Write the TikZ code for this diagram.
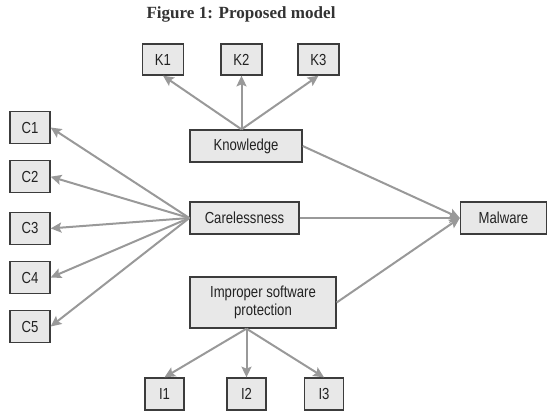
\documentclass[tikz,border=0pt]{standalone}
\usepackage{fontspec}
\newfontfamily\boxfont{Liberation Sans}[FakeStretch=0.82]
\newfontfamily\capfont{Liberation Serif}
\usetikzlibrary{arrows.meta}
\definecolor{boxline}{HTML}{3C3C3C}
\definecolor{boxfill}{HTML}{E8E8E8}
\definecolor{linkgray}{HTML}{999999}
\definecolor{txt}{HTML}{222222}
\begin{document}
\begin{tikzpicture}[x=0.75pt,y=-0.75pt,
  box/.style={draw=boxline, fill=boxfill, line width=1pt, inner sep=0pt,
    minimum height=24pt, align=center, text=txt,
    font=\boxfont\fontsize{12}{13.2}\selectfont},
  smallbox/.style={box, minimum width=30pt},
  link/.style={draw=linkgray, line width=1.5pt,
    -{Stealth[length=8pt,width=7.5pt,inset=1.5pt]}}]
\useasboundingbox (0,0) rectangle (547,411);

\node[anchor=base, font=\capfont\bfseries\fontsize{12.8}{15}\selectfont, text=black!80]
  (title) at (241,18.3) {Figure 1: Proposed model};

% K boxes
\node[smallbox, minimum width=30.75pt, minimum height=23.25pt] (k1) at (163,59.5) {K1};
\node[smallbox, minimum width=30.75pt, minimum height=23.25pt] (k2) at (241.5,59.5) {K2};
\node[smallbox, minimum width=30.75pt, minimum height=23.25pt] (k3) at (318.5,59.5) {K3};

% main factors
\node[box, minimum width=84pt] (kn) at (246,146) {Knowledge};
\node[box, minimum width=81.75pt] (car) at (244.5,218) {Carelessness};
\node[box, minimum width=109.5pt, minimum height=38.25pt] (imp) at (263,302.5) {Improper software\\protection};
\node[box, minimum width=64.5pt] (mal) at (503.5,218) {Malware};

% C boxes
\node[smallbox] (c1) at (30,127.5) {C1};
\node[smallbox] (c2) at (30,176.7) {C2};
\node[smallbox] (c3) at (30,228.4) {C3};
\node[smallbox] (c4) at (30,277.5) {C4};
\node[smallbox] (c5) at (30,326.5) {C5};

% I boxes
\node[smallbox, minimum width=29.25pt] (i1) at (164.5,394) {I1};
\node[smallbox, minimum width=29.25pt] (i2) at (246.5,394) {I2};
\node[smallbox, minimum width=29.25pt] (i3) at (324,394) {I3};

% connectors
\coordinate (ktop) at (k2 |- kn.north);
\draw[link] (ktop) -- (k1.south);
\draw[link] (ktop) -- (k2.south);
\draw[link] (ktop) -- (k3.south);

\foreach \c in {c1,c2,c3,c4,c5}
  \draw[link] (car.west) -- (\c.east);

\coordinate (ibot) at (i2 |- imp.south);
\draw[link] (ibot) -- (i1.north);
\draw[link] (ibot) -- (i2.north);
\draw[link] (ibot) -- (i3.north);

\draw[link] (kn.east) -- (mal.west);
\draw[link] (car.east) -- (mal.west);
\draw[link] (imp.east) -- (mal.west);
\end{tikzpicture}
\end{document}
